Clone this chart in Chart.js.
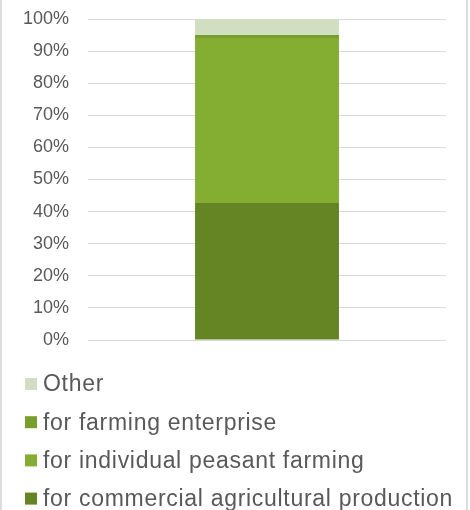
<!DOCTYPE html>
<html>
<head>
<meta charset="utf-8">
<script src="https://cdn.jsdelivr.net/npm/chart.js@4.4.1/dist/chart.umd.min.js"></script>
<style>
  html, body { margin: 0; padding: 0; background: #ffffff; }
  #wrap { width: 470px; height: 510px; }
</style>
</head>
<body>
<div id="wrap"><canvas id="c" width="470" height="510"></canvas></div>
<script>
const categories = [""];
const seriesNames = [
  "for commercial agricultural production",
  "for individual peasant farming",
  "for farming enterprise",
  "Other"
];
const commercialValues = [42.7];
const peasantValues = [51.4];
const enterpriseValues = [0.9];
const otherValues = [5.0];
const seriesColors = ["#658525", "#83ae32", "#789f2c", "#d1dec1"];
const tickLabels = ["0%", "10%", "20%", "30%", "40%", "50%", "60%", "70%", "80%", "90%", "100%"];

const FONT = "'Liberation Sans', Arial, Helvetica, sans-serif";
const TEXT_COLOR = "#595959";

const seriesValues = [commercialValues, peasantValues, enterpriseValues, otherValues];

const frameBorders = {
  id: "frameBorders",
  beforeDraw(chart) {
    const ctx = chart.ctx;
    ctx.save();
    ctx.fillStyle = "#ffffff";
    ctx.fillRect(0, 0, chart.width, chart.height);
    ctx.fillStyle = "#dcdcdc";
    ctx.fillRect(0, 0, 2, chart.height);
    ctx.fillRect(chart.width - 4, 0, 2, chart.height);
    ctx.restore();
  }
};

const stackedLegend = {
  id: "stackedLegend",
  afterDraw(chart) {
    const ctx = chart.ctx;
    const ds = chart.data.datasets.slice().reverse();
    const startY = chart.chartArea.bottom + 44;
    const rowH = 38.2;
    ctx.save();
    ctx.font = "23px " + FONT;
    if ("letterSpacing" in ctx) ctx.letterSpacing = "0.7px";
    ctx.textBaseline = "middle";
    ctx.textAlign = "left";
    ds.forEach((d, i) => {
      const cy = startY + i * rowH;
      ctx.fillStyle = d.backgroundColor;
      ctx.fillRect(25, cy - 6, 12, 12);
      ctx.fillStyle = TEXT_COLOR;
      ctx.fillText(d.label, 43, cy + 1);
    });
    ctx.restore();
  }
};

new Chart(document.getElementById("c"), {
  type: "bar",
  data: {
    labels: categories,
    datasets: seriesNames.map((name, i) => ({
      label: name,
      data: seriesValues[i],
      backgroundColor: seriesColors[i],
      borderWidth: 0,
      categoryPercentage: 1.0,
      barPercentage: 0.402
    }))
  },
  options: {
    responsive: false,
    animation: false,
    layout: { padding: { top: 19, right: 24, bottom: 170, left: 0 } },
    plugins: {
      legend: { display: false },
      tooltip: { enabled: false }
    },
    scales: {
      x: {
        stacked: true,
        display: false
      },
      y: {
        stacked: true,
        min: 0,
        max: 100,
        afterFit(scale) { scale.width = 88; },
        border: { display: false },
        grid: {
          color: "#d9d9d9",
          lineWidth: 1,
          drawTicks: true,
          tickLength: 19,
          tickColor: "rgba(0,0,0,0)"
        },
        ticks: {
          stepSize: 10,
          padding: 0,
          color: TEXT_COLOR,
          font: { family: FONT, size: 18 },
          callback: (v) => tickLabels[Math.round(v / 10)]
        }
      }
    }
  },
  plugins: [frameBorders, stackedLegend]
});
</script>
</body>
</html>
